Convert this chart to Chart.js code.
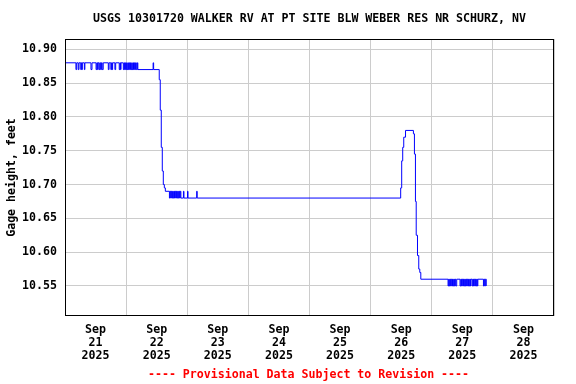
<!DOCTYPE html>
<html>
<head>
<meta charset="utf-8">
<script src="https://cdn.jsdelivr.net/npm/chart.js@4.4.1/dist/chart.umd.min.js"></script>
<style>
  html, body { margin: 0; padding: 0; background: #fff; }
  #wrap { width: 576px; height: 384px; }
</style>
</head>
<body>
<div id="wrap"><canvas id="gageChart" width="576" height="384"></canvas></div>
<script>
// Gage height, feet -- [hours since Sep 21 00:00, value], value holds until next pair
var earlyStage = [
    [0, 10.88], [4.3, 10.87], [4.6, 10.88], [5.2, 10.87], [5.5, 10.88], [6.2, 10.87], [6.4, 10.88],
    [6.6, 10.87], [6.8, 10.88], [7.6, 10.87], [7.8, 10.88], [10.2, 10.87], [10.6, 10.88],
    [12.2, 10.87], [12.5, 10.88], [12.8, 10.87], [13.0, 10.88], [13.4, 10.87], [13.7, 10.88],
    [14.0, 10.87], [14.3, 10.88], [14.6, 10.87], [15.0, 10.88], [17.0, 10.87], [17.3, 10.88],
    [18.0, 10.87], [18.3, 10.88], [18.5, 10.87], [18.7, 10.88], [19.6, 10.87], [19.9, 10.88],
    [21.3, 10.87], [21.6, 10.88], [21.8, 10.87], [22.0, 10.88], [22.9, 10.87], [23.2, 10.88],
    [23.4, 10.87], [23.7, 10.88], [23.9, 10.87], [24.2, 10.88], [24.4, 10.87], [24.7, 10.88],
    [24.9, 10.87], [25.2, 10.88], [25.4, 10.87], [25.7, 10.88], [25.9, 10.87], [26.2, 10.88],
    [26.4, 10.87], [26.7, 10.88], [26.9, 10.87], [27.2, 10.88], [27.4, 10.87], [27.7, 10.88],
    [28.0, 10.87], [28.4, 10.88], [28.6, 10.87], [34.6, 10.88], [34.8, 10.87]
];
var firstDrop = [
    [37.0, 10.855], [37.4, 10.81], [37.8, 10.755], [38.2, 10.72], [38.6, 10.70], [39.0, 10.695],
    [39.4, 10.69], [41.0, 10.68], [41.25, 10.69], [41.5, 10.68], [41.75, 10.69], [42.0, 10.68],
    [42.25, 10.69], [42.5, 10.68], [42.75, 10.69], [43.0, 10.68], [43.25, 10.69], [43.5, 10.68],
    [43.75, 10.69], [44.0, 10.68], [44.25, 10.69], [44.5, 10.68], [44.75, 10.69], [45.0, 10.68],
    [45.25, 10.69], [45.5, 10.68], [46.5, 10.69], [46.7, 10.68], [48.1, 10.69], [48.3, 10.68],
    [51.7, 10.69], [51.9, 10.68]
];
var pulse = [
    [131.8, 10.695], [132.2, 10.735], [132.6, 10.755], [133.0, 10.77], [133.7, 10.78],
    [136.8, 10.775], [137.2, 10.745], [137.6, 10.675], [137.9, 10.625], [138.4, 10.595],
    [138.9, 10.575], [139.3, 10.57], [139.7, 10.56]
];
var lateStage = [
    [150.4, 10.55], [150.65, 10.56], [150.9, 10.55], [151.15, 10.56], [151.4, 10.55], [151.65, 10.56],
    [151.9, 10.55], [152.15, 10.56], [152.4, 10.55], [152.65, 10.56], [152.9, 10.55], [153.15, 10.56],
    [153.4, 10.55], [153.8, 10.56], [155.1, 10.55], [155.4, 10.56],
    [155.7, 10.55], [155.95, 10.56], [156.2, 10.55], [156.45, 10.56], [156.7, 10.55], [156.95, 10.56],
    [157.2, 10.55], [157.45, 10.56], [157.7, 10.55], [157.95, 10.56], [158.2, 10.55], [158.45, 10.56],
    [158.7, 10.55], [158.95, 10.56], [159.2, 10.55], [159.4, 10.56],
    [159.9, 10.55], [160.15, 10.56], [160.4, 10.55], [160.65, 10.56], [160.9, 10.55], [161.15, 10.56],
    [161.4, 10.55], [161.65, 10.56], [161.9, 10.55], [162.1, 10.56],
    [164.3, 10.55], [164.55, 10.56], [164.8, 10.55], [165.05, 10.56], [165.4, 10.55]
];

var yTicks = [10.55, 10.60, 10.65, 10.70, 10.75, 10.80, 10.85, 10.90];
var dayTicks = [0, 24, 48, 72, 96, 120, 144, 168, 192];
var dayLabels = [
    ['Sep', '21', '2025'], ['Sep', '22', '2025'], ['Sep', '23', '2025'], ['Sep', '24', '2025'],
    ['Sep', '25', '2025'], ['Sep', '26', '2025'], ['Sep', '27', '2025'], ['Sep', '28', '2025']
];

var titleText = 'USGS 10301720 WALKER RV AT PT SITE BLW WEBER RES NR SCHURZ, NV';
var footerText = '---- Provisional Data Subject to Revision ----';

var monoFont = "'DejaVu Sans Mono', 'Liberation Mono', monospace";

var points = [].concat(earlyStage, firstDrop, pulse, lateStage).map(function(p) {
    return { x: p[0], y: p[1] };
});

// frame + title + footer
var framePlugin = {
    id: 'frame',
    afterDraw: function(chart) {
        var ctx = chart.ctx, a = chart.chartArea;
        ctx.save();
        ctx.strokeStyle = '#000';
        ctx.lineWidth = 1;
        ctx.strokeRect(Math.round(a.left) + 0.5, Math.round(a.top) + 0.5,
            Math.round(a.right - a.left) - 1, Math.round(a.bottom - a.top) - 1);
        ctx.font = 'bold 11.6px ' + monoFont;
        ctx.textAlign = 'center';
        ctx.textBaseline = 'middle';
        ctx.fillStyle = '#000';
        ctx.fillText(titleText, (a.left + a.right) / 2, 19);
        ctx.fillStyle = '#ff0000';
        ctx.fillText(footerText, (a.left + a.right) / 2 - 1, 375);
        ctx.restore();
    }
};

new Chart(document.getElementById('gageChart'), {
    type: 'line',
    data: {
        datasets: [{
            data: points,
            borderColor: '#0000ff',
            borderWidth: 1,
            pointRadius: 0,
            stepped: 'before',
            fill: false
        }]
    },
    options: {
        responsive: false,
        animation: false,
        devicePixelRatio: 1,
        layout: { padding: { top: 39, right: 22, bottom: 0, left: 0 } },
        plugins: { legend: { display: false }, tooltip: { enabled: false } },
        scales: {
            x: {
                type: 'linear',
                min: 0,
                max: 192,
                afterBuildTicks: function(scale) {
                    scale.ticks = dayTicks.map(function(v) { return { value: v }; });
                },
                afterFit: function(scale) { scale.height = 68; },
                grid: { color: '#cccccc', lineWidth: 1, drawTicks: false },
                border: { display: false },
                ticks: {
                    autoSkip: false,
                    maxRotation: 0,
                    padding: 8,
                    labelOffset: 30.56,
                    color: '#000',
                    font: { family: monoFont, size: 11.6, weight: 'bold', lineHeight: 1.1 },
                    callback: function(val, i) { return dayLabels[i] || ''; }
                }
            },
            y: {
                type: 'linear',
                min: 10.5056,
                max: 10.9152,
                afterBuildTicks: function(scale) {
                    scale.ticks = yTicks.map(function(v) { return { value: v }; });
                },
                afterFit: function(scale) { scale.width = 65; },
                grid: { color: '#cccccc', lineWidth: 1, drawTicks: false },
                border: { display: false },
                title: {
                    display: true,
                    text: 'Gage height, feet',
                    color: '#000',
                    font: { family: monoFont, size: 11.6, weight: 'bold' },
                    padding: { top: 5, bottom: 0 }
                },
                ticks: {
                    padding: 8,
                    color: '#000',
                    font: { family: monoFont, size: 11.6, weight: 'bold' },
                    callback: function(val) { return val.toFixed(2); }
                }
            }
        }
    },
    plugins: [framePlugin]
});
</script>
</body>
</html>
